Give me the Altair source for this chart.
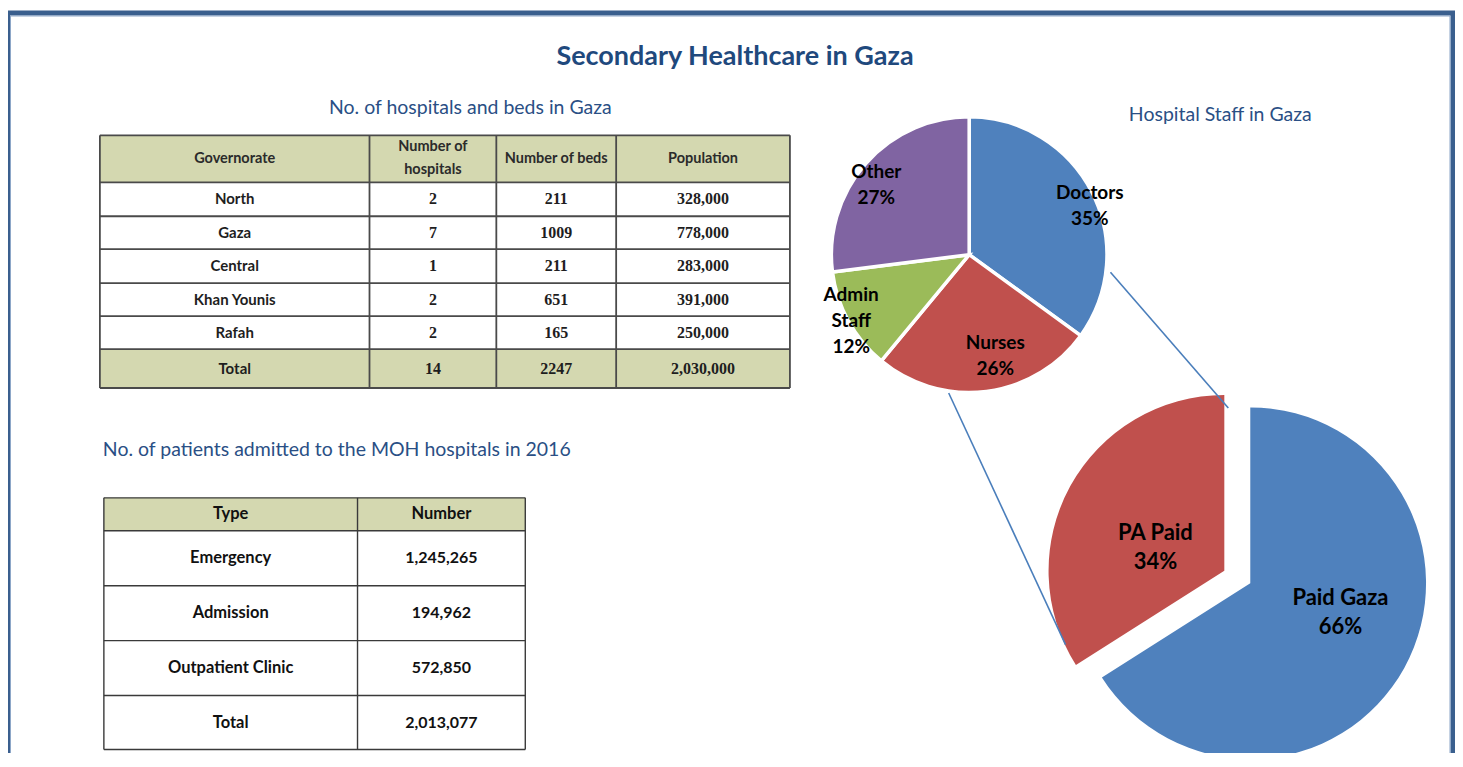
import altair as alt
import pandas as pd

# ---------------- data ----------------
title_text = "Secondary Healthcare in Gaza"
sub_hosp = "No. of hospitals and beds in Gaza"
sub_staff = "Hospital Staff in Gaza"
sub_patients = "No. of patients admitted to the MOH hospitals in 2016"

t1_headers = ["Governorate", "Number of\nhospitals", "Number of beds", "Population"]
governorates = ["North", "Gaza", "Central", "Khan Younis", "Rafah", "Total"]
hospitals = [2, 7, 1, 2, 2, 14]
beds = [211, 1009, 211, 651, 165, 2247]
population = [328000, 778000, 283000, 391000, 250000, 2030000]

t2_headers = ["Type", "Number"]
patient_types = ["Emergency", "Admission", "Outpatient Clinic", "Total"]
patient_numbers = [1245265, 194962, 572850, 2013077]

staff_cats = ["Doctors", "Nurses", "Admin Staff", "Other"]
staff_pct = [35, 26, 12, 27]
pay_cats = ["Paid Gaza", "PA Paid"]
pay_pct = [66, 34]

# ---------------- layout / style ----------------
W, H = 1449, 745
X0, Y0 = 8, 8
xs = alt.Scale(domain=[X0, X0 + W], nice=False, zero=False)
ys = alt.Scale(domain=[Y0, Y0 + H], reverse=True, nice=False, zero=False)

TITLE_BLUE = "#1F497D"
SUB_BLUE = "#2A4F85"
FRAME = "#3A5F8E"
KHAKI = "#D4D8B0"
cat_colors = {"Doctors": "#4F81BD", "Nurses": "#C0504D", "Admin Staff": "#9BBB59",
              "Other": "#8064A2", "Paid Gaza": "#4F81BD", "PA Paid": "#C0504D"}
display_names = {"Admin Staff": "Admin\nStaff"}

t1_cols = [100, 370, 497, 617, 791]
t1_rows = [135, 182, 216, 249, 283, 316, 349, 388]
t2_cols = [104, 358, 526]
t2_rows = [498, 531, 586, 641, 696, 750]

pie1_center = (970.5, 254.5)
pie1_r = 138
pie2_center = (1252, 583.5)
pie2_explode = (1226, 571)
pie2_r = 176
# label placement: (radius, dx, dy, font size, line height)
label_place = {"Doctors": (130, 5, 10, 19, 26), "Nurses": (105, 13, -3, 19, 26),
               "Admin Staff": (136, 1, 1, 19, 26), "Other": (116, -6, 7, 19, 26),
               "Paid Gaza": (95, 7, -16, 22, 29), "PA Paid": (73, -5, 12, 22, 29)}
connectors = [(1112, 272, 1230, 408), (950, 393, 1067, 645)]


def X(f):
    return alt.X(f, type="quantitative", scale=xs, axis=None)


def Y(f):
    return alt.Y(f, type="quantitative", scale=ys, axis=None)


def XD(v):
    return alt.XDatum(v, scale=xs, axis=None, type="quantitative")


def YD(v):
    return alt.YDatum(v, scale=ys, axis=None, type="quantitative")


layers = []

# frame
frame_df = pd.DataFrame({"x0": [7.5], "x1": [1455], "y0": [12.5], "y1": [790]})
layers.append(alt.Chart(frame_df).mark_rect(fillOpacity=0, stroke=FRAME, strokeWidth=5).encode(
    x=X("x0"), x2="x1", y=Y("y0"), y2="y1"))
inner_df = pd.DataFrame({"x0": [10.5], "x1": [1452], "y0": [15.5], "y1": [790]})
layers.append(alt.Chart(inner_df).mark_rect(fillOpacity=0, stroke="#8CA6C8", strokeWidth=1).encode(
    x=X("x0"), x2="x1", y=Y("y0"), y2="y1"))

# titles
titles = pd.DataFrame({
    "text": [title_text, sub_hosp, sub_staff, sub_patients],
    "x": [736, 471, 1222, 103],
    "y": [57, 108, 115, 450],
    "kind": ["main", "sub", "sub", "subleft"],
})
layers.append(alt.Chart(titles).transform_filter(alt.datum.kind == "main").mark_text(
    font="Lato", fontSize=27, fontWeight="bold", color=TITLE_BLUE, align="center", baseline="middle").encode(
    x=X("x"), y=Y("y"), text="text:N"))
layers.append(alt.Chart(titles).transform_filter(alt.datum.kind == "sub").mark_text(
    font="Lato", fontSize=19.5, color=SUB_BLUE, align="center", baseline="middle").encode(
    x=X("x"), y=Y("y"), text="text:N"))
layers.append(alt.Chart(titles).transform_filter(alt.datum.kind == "subleft").mark_text(
    font="Lato", fontSize=19.5, color=SUB_BLUE, align="left", baseline="middle").encode(
    x=X("x"), y=Y("y"), text="text:N"))

# ---------------- table fills and grid ----------------
fills = pd.DataFrame({
    "x0": [t1_cols[0], t1_cols[0], t2_cols[0]],
    "x1": [t1_cols[-1], t1_cols[-1], t2_cols[-1]],
    "y0": [t1_rows[0], t1_rows[-2], t2_rows[0]],
    "y1": [t1_rows[1], t1_rows[-1], t2_rows[1]],
})
layers.append(alt.Chart(fills).mark_rect(fill=KHAKI).encode(x=X("x0"), x2="x1", y=Y("y0"), y2="y1"))


def grid_lines(cols, rows):
    recs = []
    for yv in rows:
        recs.append({"x0": cols[0], "x1": cols[-1], "y0": yv, "y1": yv})
    for xv in cols:
        recs.append({"x0": xv, "x1": xv, "y0": rows[0], "y1": rows[-1]})
    return pd.DataFrame(recs)


layers.append(alt.Chart(grid_lines(t1_cols, t1_rows)).mark_rule(color="#4A4A4A", strokeWidth=1.8).encode(
    x=X("x0"), x2="x1", y=Y("y0"), y2="y1"))
layers.append(alt.Chart(grid_lines(t2_cols, t2_rows)).mark_rule(color="#3A3A3A", strokeWidth=1.4).encode(
    x=X("x0"), x2="x1", y=Y("y0"), y2="y1"))

# ---------------- table 1 text ----------------
t1_text = []
ccent = [(t1_cols[i] + t1_cols[i + 1]) / 2 for i in range(len(t1_cols) - 1)]
rcent = [(t1_rows[i] + t1_rows[i + 1]) / 2 for i in range(len(t1_rows) - 1)]
for j, hd in enumerate(t1_headers):
    role = "header2" if "\n" in hd else "header"
    t1_text.append({"text": hd, "x": ccent[j], "y": rcent[0], "role": role})
for i, g in enumerate(governorates):
    vals = [str(hospitals[i]), str(beds[i]), f"{population[i]:,}"]
    t1_text.append({"text": g, "x": ccent[0], "y": rcent[i + 1], "role": "label"})
    for j, v in enumerate(vals):
        t1_text.append({"text": v, "x": ccent[j + 1], "y": rcent[i + 1], "role": "number"})
t1_df = pd.DataFrame(t1_text)

layers.append(alt.Chart(t1_df).transform_filter(alt.datum.role == "header").mark_text(
    font="Lato", fontSize=14.5, fontWeight="bold", color="#2B2B2B", align="center", baseline="middle").encode(
    x=X("x"), y=Y("y"), text="text:N"))
layers.append(alt.Chart(t1_df).transform_filter(alt.datum.role == "header2").mark_text(
    font="Lato", fontSize=14.5, fontWeight="bold", color="#2B2B2B", align="center", baseline="middle",
    lineBreak="\n", lineHeight=23, dy=-11.5).encode(x=X("x"), y=Y("y"), text="text:N"))
layers.append(alt.Chart(t1_df).transform_filter(alt.datum.role == "label").mark_text(
    font="Lato", fontSize=15, fontWeight="bold", color="#1E1E1E", align="center", baseline="middle").encode(
    x=X("x"), y=Y("y"), text="text:N"))
layers.append(alt.Chart(t1_df).transform_filter(alt.datum.role == "number").mark_text(
    font="Liberation Serif", fontSize=16, fontWeight="bold", color="#1E1E1E", align="center", baseline="middle").encode(
    x=X("x"), y=Y("y"), text="text:N"))

# ---------------- table 2 text ----------------
t2_text = []
c2 = [(t2_cols[i] + t2_cols[i + 1]) / 2 for i in range(len(t2_cols) - 1)]
r2 = [(t2_rows[i] + t2_rows[i + 1]) / 2 for i in range(len(t2_rows) - 1)]
for j, hd in enumerate(t2_headers):
    t2_text.append({"text": hd, "x": c2[j], "y": r2[0], "role": "label"})
for i, tp in enumerate(patient_types):
    t2_text.append({"text": tp, "x": c2[0], "y": r2[i + 1], "role": "label"})
    t2_text.append({"text": f"{patient_numbers[i]:,}", "x": c2[1], "y": r2[i + 1], "role": "number"})
t2_df = pd.DataFrame(t2_text)
layers.append(alt.Chart(t2_df).transform_filter(alt.datum.role == "label").mark_text(
    font="Lato", fontSize=16.5, fontWeight="bold", color="#111111", align="center", baseline="middle").encode(
    x=X("x"), y=Y("y"), text="text:N"))
layers.append(alt.Chart(t2_df).transform_filter(alt.datum.role == "number").mark_text(
    font="Lato", fontSize=16, fontWeight="bold", color="#111111", align="center", baseline="middle").encode(
    x=X("x"), y=Y("y"), text="text:N"))

# ---------------- pies ----------------
all_cats = staff_cats + pay_cats
color_scale = alt.Scale(domain=all_cats, range=[cat_colors[c] for c in all_cats])
theta_scale = alt.Scale(domain=[0, 100])


def pie_df(cats, pcts):
    return pd.DataFrame({
        "cat": cats, "pct": pcts, "idx": list(range(len(cats))),
        "label": [display_names.get(c, c) + "\n" + f"{p}%" for c, p in zip(cats, pcts)],
    })


staff_df = pie_df(staff_cats, staff_pct)
pay_df = pie_df(pay_cats, pay_pct)

theta_enc = alt.Theta("pct:Q", stack=True, scale=theta_scale)
color_enc = alt.Color("cat:N", scale=color_scale, legend=None)

layers.append(alt.Chart(staff_df).mark_arc(outerRadius=pie1_r, stroke="white", strokeWidth=3.5).encode(
    theta=theta_enc, color=color_enc, order=alt.Order("idx:Q"),
    x=XD(pie1_center[0]), y=YD(pie1_center[1])))

# pie 2: main slice and exploded slice
layers.append(alt.Chart(pay_df).mark_arc(outerRadius=pie2_r).encode(
    theta=theta_enc, color=color_enc, order=alt.Order("idx:Q"),
    opacity=alt.condition(alt.datum.cat == "Paid Gaza", alt.value(1), alt.value(0)),
    x=XD(pie2_center[0]), y=YD(pie2_center[1])))
layers.append(alt.Chart(pay_df).mark_arc(outerRadius=pie2_r).encode(
    theta=theta_enc, color=color_enc, order=alt.Order("idx:Q"),
    opacity=alt.condition(alt.datum.cat == "PA Paid", alt.value(1), alt.value(0)),
    x=XD(pie2_explode[0]), y=YD(pie2_explode[1])))

# connectors
conn_df = pd.DataFrame(connectors, columns=["x0", "y0", "x1", "y1"])
layers.append(alt.Chart(conn_df).mark_rule(color="#4A7EBB", strokeWidth=1.6).encode(
    x=X("x0"), x2="x1", y=Y("y0"), y2="y1"))

# pie labels
for df, cats, center_for in [
    (staff_df, staff_cats, lambda c: pie1_center),
    (pay_df, pay_cats, lambda c: pie2_explode if c == "PA Paid" else pie2_center),
]:
    for c in cats:
        r, dx, dy, fs, lh = label_place[c]
        n_lines = display_names.get(c, c).count("\n") + 2
        cx, cy = center_for(c)
        layers.append(alt.Chart(df).mark_text(
            radius=r, dx=dx, dy=dy - (n_lines - 1) * lh / 2, font="Lato", fontSize=fs, fontWeight="bold",
            color="#000000", align="center", baseline="middle", lineBreak="\n", lineHeight=lh).encode(
            theta=theta_enc, order=alt.Order("idx:Q"), text="label:N",
            opacity=alt.condition(alt.datum.cat == c, alt.value(1), alt.value(0)),
            x=XD(cx), y=YD(cy)))

chart = alt.layer(*layers).properties(
    width=W, height=H, padding=0, autosize=alt.AutoSizeParams(type="none"), background="white"
).configure_view(stroke=None)

chart.save("out.html", embed_options={"renderer": "svg", "actions": False})
